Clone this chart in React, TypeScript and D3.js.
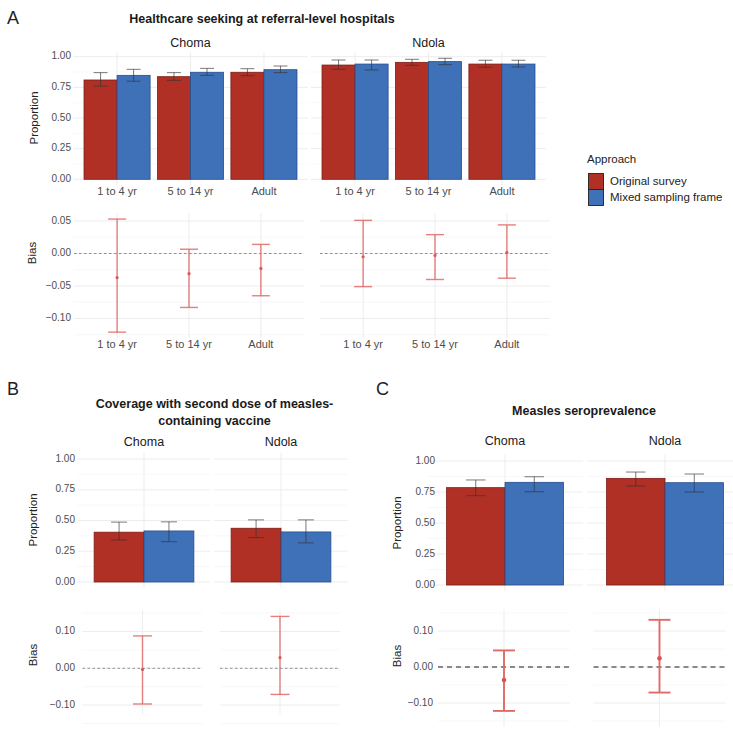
import * as d3 from 'd3'

const FONT = '"Liberation Sans", Arial, Helvetica, sans-serif'
const W = 733
const H = 732

const RED = '#b03026'
const RED_EDGE = '#7c1d16'
const BLUE = '#3f71b8'
const BLUE_EDGE = '#244e8e'
const BIAS_COL = '#e06a68'
const GRID = '#ebebeb'
const GRID_MINOR = '#f4f4f4'
const TICK_COL = '#4d4d4d'

const approaches = ['Original survey', 'Mixed sampling frame']
const sites = ['Choma', 'Ndola']
const ageGroups = ['1 to 4 yr', '5 to 14 yr', 'Adult']

// A: healthcare seeking, order = Choma x3, Ndola x3
const hcsSite = ['Choma', 'Choma', 'Choma', 'Ndola', 'Ndola', 'Ndola']
const hcsAge = ['1 to 4 yr', '5 to 14 yr', 'Adult', '1 to 4 yr', '5 to 14 yr', 'Adult']
const hcsOrig = [0.81, 0.837, 0.873, 0.932, 0.954, 0.94]
const hcsOrigLo = [0.76, 0.807, 0.845, 0.897, 0.93, 0.914]
const hcsOrigHi = [0.87, 0.87, 0.902, 0.973, 0.979, 0.971]
const hcsMixed = [0.848, 0.873, 0.894, 0.94, 0.96, 0.94]
const hcsMixedLo = [0.80, 0.848, 0.87, 0.892, 0.935, 0.916]
const hcsMixedHi = [0.897, 0.905, 0.924, 0.973, 0.987, 0.971]
const hcsBias = [-0.037, -0.031, -0.023, -0.005, -0.003, 0.0015]
const hcsBiasLo = [-0.121, -0.083, -0.065, -0.051, -0.040, -0.038]
const hcsBiasHi = [0.053, 0.0066, 0.014, 0.051, 0.029, 0.044]

// B: MCV2 coverage, one value per site
const mcvOrig = [0.405, 0.437]
const mcvOrigLo = [0.342, 0.361]
const mcvOrigHi = [0.487, 0.505]
const mcvMixed = [0.415, 0.407]
const mcvMixedLo = [0.328, 0.318]
const mcvMixedHi = [0.489, 0.505]
const mcvBias = [-0.003, 0.029]
const mcvBiasLo = [-0.097, -0.071]
const mcvBiasHi = [0.088, 0.141]

// C: measles seroprevalence
const seroOrig = [0.785, 0.86]
const seroOrigLo = [0.72, 0.798]
const seroOrigHi = [0.847, 0.911]
const seroMixed = [0.828, 0.825]
const seroMixedLo = [0.752, 0.75]
const seroMixedHi = [0.873, 0.895]
const seroBias = [-0.036, 0.024]
const seroBiasLo = [-0.122, -0.071]
const seroBiasHi = [0.046, 0.131]

const propTicks = [0, 0.25, 0.5, 0.75, 1]
const propMinor = [0.125, 0.375, 0.625, 0.875]
const biasTicksA = [-0.1, -0.05, 0, 0.05]
const biasMinorA = [-0.125, -0.075, -0.025, 0.025]
const biasTicksBC = [-0.1, 0, 0.1]
const biasMinorBC = [-0.15, -0.05, 0.05, 0.15]

type BarRow = { site: string; cat: string; approach: string; est: number; lo: number; hi: number }
type BiasRow = { site: string; cat: string; est: number; lo: number; hi: number }

function barRows(siteArr: string[], catArr: string[], o: number[], oLo: number[], oHi: number[], m: number[], mLo: number[], mHi: number[]): BarRow[] {
  const out: BarRow[] = []
  siteArr.forEach((s, i) => {
    out.push({ site: s, cat: catArr[i], approach: approaches[0], est: o[i], lo: oLo[i], hi: oHi[i] })
    out.push({ site: s, cat: catArr[i], approach: approaches[1], est: m[i], lo: mLo[i], hi: mHi[i] })
  })
  return out
}

function biasRows(siteArr: string[], catArr: string[], b: number[], lo: number[], hi: number[]): BiasRow[] {
  return siteArr.map((s, i) => ({ site: s, cat: catArr[i], est: b[i], lo: lo[i], hi: hi[i] }))
}

const fmt2 = (v: number) => d3.format('.2f')(v).replace('-', '-')

type Layout = {
  left: number
  panelW: number
  gap: number
  zeroPx: number // pixel of value 0
  refVal: number // a reference value
  refPx: number // pixel of refVal
  yLim: [number, number]
  tickX: number
  ticks: number[]
  minor: number[]
}

function makeY(L: Layout) {
  return d3.scaleLinear().domain([0, L.refVal]).range([L.zeroPx, L.refPx])
}

function Grid({ L, cats }: { L: Layout; cats: string[] }) {
  const y = makeY(L)
  const top = y(L.yLim[1])
  const bot = y(L.yLim[0])
  return (
    <g>
      {sites.map((s, si) => {
        const px = L.left + si * (L.panelW + L.gap)
        const x = d3.scalePoint<string>().domain(cats).range([px, px + L.panelW]).padding(0.6)
        return (
          <g key={s}>
            {L.minor.map((t) => (
              <line key={'m' + t} x1={px} x2={px + L.panelW} y1={y(t)} y2={y(t)} stroke={GRID_MINOR} strokeWidth={0.6} />
            ))}
            {L.ticks.map((t) => (
              <line key={'t' + t} x1={px} x2={px + L.panelW} y1={y(t)} y2={y(t)} stroke={GRID} strokeWidth={0.9} />
            ))}
            {cats.map((c) => (
              <line key={c} x1={x(c)} x2={x(c)} y1={top} y2={bot} stroke={GRID} strokeWidth={0.9} />
            ))}
          </g>
        )
      })}
      {L.ticks.map((t) => (
        <text key={t} x={L.tickX} y={y(t)} textAnchor="end" dominantBaseline="middle" fontSize={10} fill={TICK_COL}>
          {fmt2(t)}
        </text>
      ))}
    </g>
  )
}

function BarFacets({ L, cats, data, capFrac, facetY, catY }: { L: Layout; cats: string[]; data: BarRow[]; capFrac: number; facetY: number; catY?: number }) {
  const y = makeY(L)
  return (
    <g>
      <Grid L={L} cats={cats} />
      {sites.map((s, si) => {
        const px = L.left + si * (L.panelW + L.gap)
        const x = d3.scalePoint<string>().domain(cats).range([px, px + L.panelW]).padding(0.6)
        const step = x.step()
        const sub = d3.scaleBand<string>().domain(approaches).range([0, step * 0.9])
        const rows = data.filter((d) => d.site === s)
        return (
          <g key={s}>
            <text x={px + L.panelW / 2} y={facetY} textAnchor="middle" dominantBaseline="middle" fontSize={12.5} fill="#1a1a1a">
              {s}
            </text>
            {rows.map((d, i) => {
              const bx = (x(d.cat) as number) - step * 0.45 + (sub(d.approach) as number)
              const orig = d.approach === approaches[0]
              return (
                <rect key={'b' + i} x={bx} y={y(d.est)} width={sub.bandwidth()} height={y(0) - y(d.est)}
                  fill={orig ? RED : BLUE} stroke={orig ? RED_EDGE : BLUE_EDGE} strokeWidth={0.8} />
              )
            })}
            {rows.map((d, i) => {
              const cx = (x(d.cat) as number) - step * 0.45 + (sub(d.approach) as number) + sub.bandwidth() / 2
              const hw = (step * capFrac) / 2
              return (
                <g key={'e' + i} stroke="#333" strokeOpacity={0.65} strokeWidth={1}>
                  <line x1={cx} x2={cx} y1={y(d.lo)} y2={y(d.hi)} />
                  <line x1={cx - hw} x2={cx + hw} y1={y(d.lo)} y2={y(d.lo)} />
                  <line x1={cx - hw} x2={cx + hw} y1={y(d.hi)} y2={y(d.hi)} />
                </g>
              )
            })}
            {catY !== undefined &&
              cats.map((c) => (
                <text key={'c' + c} x={x(c)} y={catY} textAnchor="middle" dominantBaseline="middle" fontSize={11} fill={TICK_COL}>
                  {c}
                </text>
              ))}
          </g>
        )
      })}
    </g>
  )
}

function BiasFacets({ L, cats, data, capFrac, catY, heavy }: { L: Layout; cats: string[]; data: BiasRow[]; capFrac: number; catY?: number; heavy?: boolean }) {
  const y = makeY(L)
  return (
    <g>
      <Grid L={L} cats={cats} />
      {sites.map((s, si) => {
        const px = L.left + si * (L.panelW + L.gap)
        const x = d3.scalePoint<string>().domain(cats).range([px, px + L.panelW]).padding(0.6)
        const step = x.step()
        const rows = data.filter((d) => d.site === s)
        const hw = (step * capFrac) / 2
        return (
          <g key={s}>
            <line x1={px} x2={px + L.panelW} y1={y(0)} y2={y(0)}
              stroke={heavy ? '#666' : '#777'} strokeWidth={heavy ? 1.4 : 0.8} strokeDasharray={heavy ? '5,4' : '2.5,2.5'} />
            {rows.map((d, i) => {
              const cx = x(d.cat) as number
              return (
                <g key={i} stroke={BIAS_COL} strokeOpacity={heavy ? 1 : 0.85} strokeWidth={heavy ? 1.9 : 1.4}>
                  <line x1={cx} x2={cx} y1={y(d.lo)} y2={y(d.hi)} />
                  <line x1={cx - hw} x2={cx + hw} y1={y(d.lo)} y2={y(d.lo)} />
                  <line x1={cx - hw} x2={cx + hw} y1={y(d.hi)} y2={y(d.hi)} />
                  <circle cx={cx} cy={y(d.est)} r={heavy ? 2.3 : 1.6} fill={heavy ? '#d9534f' : '#d85a58'} stroke="none" />
                </g>
              )
            })}
            {catY !== undefined &&
              cats.map((c) => (
                <text key={'c' + c} x={x(c)} y={catY} textAnchor="middle" dominantBaseline="middle" fontSize={11} fill={TICK_COL}>
                  {c}
                </text>
              ))}
          </g>
        )
      })}
    </g>
  )
}

function AxisTitle({ x, y, text }: { x: number; y: number; text: string }) {
  return (
    <text transform={`translate(${x},${y}) rotate(-90)`} textAnchor="middle" dominantBaseline="middle" fontSize={11.5} fill="#222">
      {text}
    </text>
  )
}

const layoutATop: Layout = { left: 73, panelW: 235, gap: 3, zeroPx: 179.3, refVal: 1, refPx: 56.7, yLim: [-0.05, 1.035], tickX: 71, ticks: propTicks, minor: propMinor }
const layoutABias: Layout = { left: 74, panelW: 230, gap: 16, zeroPx: 253.5, refVal: 0.05, refPx: 221, yLim: [-0.13, 0.062], tickX: 71, ticks: biasTicksA, minor: biasMinorA }
const layoutBTop: Layout = { left: 77.5, panelW: 133, gap: 4, zeroPx: 582, refVal: 1, refPx: 459, yLim: [-0.05, 1.05], tickX: 75, ticks: propTicks, minor: propMinor }
const layoutBBias: Layout = { left: 82.5, panelW: 120, gap: 17.5, zeroPx: 668.3, refVal: 0.1, refPx: 631.5, yLim: [-0.125, 0.158], tickX: 75, ticks: biasTicksBC, minor: biasMinorBC }
const layoutCTop: Layout = { left: 427, panelW: 156, gap: 4, zeroPx: 585, refVal: 1, refPx: 461, yLim: [-0.05, 1.05], tickX: 435, ticks: propTicks, minor: propMinor }
const layoutCBias: Layout = { left: 438, panelW: 132, gap: 23.5, zeroPx: 667, refVal: 0.1, refPx: 631, yLim: [-0.165, 0.16], tickX: 433, ticks: biasTicksBC, minor: biasMinorBC }

export default function App() {
  const single = ['all']
  const siteOnly = sites
  const singleCats = siteOnly.map(() => 'all')
  const hcsBars = barRows(hcsSite, hcsAge, hcsOrig, hcsOrigLo, hcsOrigHi, hcsMixed, hcsMixedLo, hcsMixedHi)
  const hcsB = biasRows(hcsSite, hcsAge, hcsBias, hcsBiasLo, hcsBiasHi)
  const mcvBars = barRows(siteOnly, singleCats, mcvOrig, mcvOrigLo, mcvOrigHi, mcvMixed, mcvMixedLo, mcvMixedHi)
  const mcvB = biasRows(siteOnly, singleCats, mcvBias, mcvBiasLo, mcvBiasHi)
  const seroBars = barRows(siteOnly, singleCats, seroOrig, seroOrigLo, seroOrigHi, seroMixed, seroMixedLo, seroMixedHi)
  const seroB = biasRows(siteOnly, singleCats, seroBias, seroBiasLo, seroBiasHi)

  return (
    <svg width={W} height={H} viewBox={`0 0 ${W} ${H}`} fontFamily={FONT}
      style={{ position: 'absolute', left: 0, top: 0, background: '#fff' }}>
      <rect width={W} height={H} fill="#fff" />

      {/* Panel A */}
      <text x={7} y={24} fontSize={18} fill="#222">A</text>
      <text x={262} y={20} textAnchor="middle" dominantBaseline="middle" fontSize={12.5} fontWeight="bold" fill="#1a1a1a">
        Healthcare seeking at referral-level hospitals
      </text>
      <BarFacets L={layoutATop} cats={ageGroups} data={hcsBars} capFrac={0.19} facetY={44} catY={192} />
      <AxisTitle x={35} y={118} text="Proportion" />
      <BiasFacets L={layoutABias} cats={ageGroups} data={hcsB} capFrac={0.25} catY={345} />
      <AxisTitle x={33} y={253} text="Bias" />

      {/* Legend */}
      <text x={587} y={160} dominantBaseline="middle" fontSize={11.5} fill="#222">Approach</text>
      {approaches.map((a, i) => (
        <g key={a}>
          <rect x={588.5} y={173.5 + i * 16} width={15} height={16} fill={i === 0 ? RED : BLUE} stroke="#222" strokeWidth={0.9} />
          <text x={610} y={182 + i * 16} dominantBaseline="middle" fontSize={11.5} fill="#222">{a}</text>
        </g>
      ))}

      {/* Panel B */}
      <text x={7} y={395} fontSize={18} fill="#222">B</text>
      <text x={214.5} y={405} textAnchor="middle" dominantBaseline="middle" fontSize={12.5} fontWeight="bold" fill="#1a1a1a">
        Coverage with second dose of measles-
      </text>
      <text x={214.5} y={422} textAnchor="middle" dominantBaseline="middle" fontSize={12.5} fontWeight="bold" fill="#1a1a1a">
        containing vaccine
      </text>
      <BarFacets L={layoutBTop} cats={single} data={mcvBars} capFrac={0.145} facetY={443} />
      <AxisTitle x={34} y={520} text="Proportion" />
      <BiasFacets L={layoutBBias} cats={single} data={mcvB} capFrac={0.19} />
      <AxisTitle x={34} y={655} text="Bias" />

      {/* Panel C */}
      <text x={376} y={395} fontSize={18} fill="#222">C</text>
      <text x={584} y={412} textAnchor="middle" dominantBaseline="middle" fontSize={12.5} fontWeight="bold" fill="#1a1a1a">
        Measles seroprevalence
      </text>
      <BarFacets L={layoutCTop} cats={single} data={seroBars} capFrac={0.15} facetY={442} />
      <AxisTitle x={398} y={523} text="Proportion" />
      <BiasFacets L={layoutCBias} cats={single} data={seroB} capFrac={0.2} heavy />
      <AxisTitle x={398} y={656} text="Bias" />
    </svg>
  )
}
